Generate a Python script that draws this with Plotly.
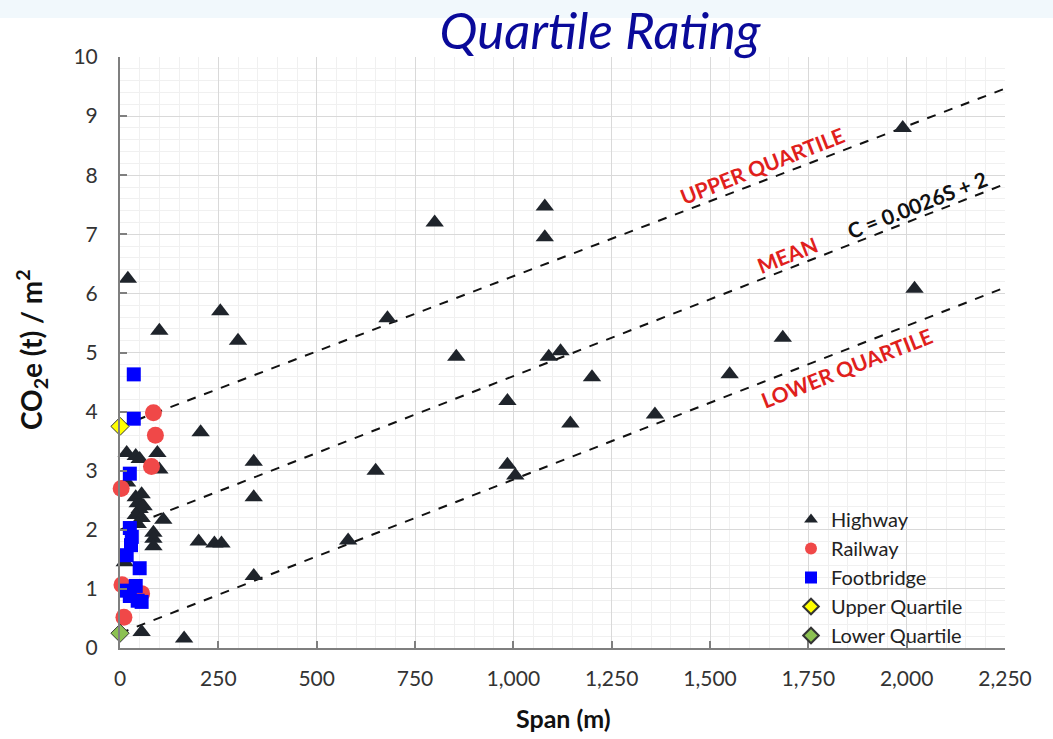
import plotly.graph_objects as go

# Highway bridges: span (m) and embodied carbon per deck area
highway_span = [20, 100, 255, 300, 205, 340, 340, 650, 200, 240, 258, 340, 580, 680,
                1080, 1080, 800, 855, 1090, 1120, 1200, 985, 1145, 1360, 985, 1005,
                1990, 2020, 1685, 1550, 17, 40, 50, 95, 100, 18, 40, 45, 55, 50, 60,
                40, 55, 45, 110, 12, 85, 85, 85, 55, 163]
highway_co2 = [6.25, 5.37, 5.70, 5.20, 3.65, 3.15, 2.55, 3.00, 1.80, 1.77, 1.77, 1.22, 1.82, 5.58,
               7.47, 6.95, 7.20, 4.93, 4.93, 5.02, 4.58, 4.18, 3.80, 3.95, 3.10, 2.92,
               8.80, 6.08, 5.25, 4.63, 3.30, 3.25, 3.20, 3.30, 3.02, 2.80, 2.55, 2.45, 2.60, 2.35, 2.40,
               2.25, 2.20, 2.10, 2.17, 1.45, 1.95, 1.85, 1.72, 0.27, 0.16]

railway_span = [85, 90, 80, 3, 5, 10, 55]
railway_co2 = [3.98, 3.60, 3.07, 2.70, 1.07, 0.52, 0.92]

footbridge_span = [35, 35, 25, 25, 30, 28, 17, 50, 15, 40, 25, 45, 55]
footbridge_co2 = [4.63, 3.88, 2.95, 2.03, 1.88, 1.74, 1.57, 1.35, 0.97, 1.05, 0.88, 0.80, 0.78]

upper_q_span, upper_q_co2 = [0], [3.75]
lower_q_span, lower_q_co2 = [0], [0.25]

# Trend lines C = slope * S + intercept
line_span = [0, 2250]
mean_slope, mean_int = 0.0026, 2.0
upper_slope, upper_int = 0.00254, 3.75
lower_slope, lower_int = 0.0026, 0.25

x_ticks = [0, 250, 500, 750, 1000, 1250, 1500, 1750, 2000, 2250]
y_ticks = list(range(0, 11))

FONT = "Lato"
fig = go.Figure()

dash = dict(color="#111111", width=2, dash="dash")
for slope, icpt in [(upper_slope, upper_int), (mean_slope, mean_int), (lower_slope, lower_int)]:
    fig.add_trace(go.Scatter(x=line_span, y=[icpt + slope * s for s in line_span],
                             mode="lines", line=dash, showlegend=False, hoverinfo="skip"))

fig.add_trace(go.Scatter(x=highway_span, y=highway_co2, mode="markers", name="Highway",
                         marker=dict(symbol="triangle-up", size=16, color="#1f242b"),
                         cliponaxis=False))
fig.add_trace(go.Scatter(x=railway_span, y=railway_co2, mode="markers", name="Railway",
                         marker=dict(symbol="circle", size=17, color="#f04848"),
                         cliponaxis=False))
fig.add_trace(go.Scatter(x=footbridge_span, y=footbridge_co2, mode="markers", name="Footbridge",
                         marker=dict(symbol="square", size=14, color="#0000ff"),
                         cliponaxis=False))
fig.add_trace(go.Scatter(x=upper_q_span, y=upper_q_co2, mode="markers", name="Upper Quartile",
                         marker=dict(symbol="diamond", size=14, color="#ffff00",
                                     line=dict(color="#333333", width=1)),
                         cliponaxis=False))
fig.add_trace(go.Scatter(x=lower_q_span, y=lower_q_co2, mode="markers", name="Lower Quartile",
                         marker=dict(symbol="diamond", size=14, color="#8cc152",
                                     line=dict(color="#333333", width=1)),
                         cliponaxis=False))

axis_common = dict(
    showline=True, linecolor="#7f7f7f", linewidth=2, mirror=False,
    ticks="inside", ticklen=7, tickcolor="#7f7f7f", tickwidth=1.5,
    showgrid=True, gridcolor="#d9d9d9", gridwidth=1, zeroline=False,
    tickfont=dict(family=FONT, size=21, color="#333333"),
)

fig.update_xaxes(range=[0, 2250], tickvals=x_ticks, tickformat=",", ticklabelstandoff=11,
                 minor=dict(dtick=50, showgrid=True, gridcolor="#f0f0f0", ticks=""),
                 **axis_common)
fig.update_yaxes(range=[0, 10], tickvals=y_ticks, ticklabelstandoff=16,
                 minor=dict(dtick=0.2, showgrid=True, gridcolor="#f0f0f0", ticks=""),
                 **axis_common)

red = "#e0201c"
ann = [
    dict(x=1632, y=8.17, text="<b>UPPER QUARTILE</b>", color=red),
    dict(x=1698, y=6.65, text="<b>MEAN</b>", color=red),
    dict(x=2026, y=7.50, text="<b>C = 0.0026S + 2</b>", color="#111111"),
    dict(x=1848, y=4.74, text="<b>LOWER QUARTILE</b>", color=red),
]
for a in ann:
    fig.add_annotation(x=a["x"], y=a["y"], text=a["text"], showarrow=False, textangle=-21.5,
                       font=dict(family=FONT, size=21, color=a["color"]))

# Axis titles
fig.add_annotation(xref="paper", yref="paper", x=(31 - 120) / 885, y=(648 - 350) / 591,
                   xanchor="center", yanchor="middle",
                   text="<b>CO<sub>2</sub>e (t) / m<sup>2</sup></b>", showarrow=False,
                   textangle=-90, font=dict(family=FONT, size=28, color="#111111"))
fig.add_annotation(xref="paper", yref="paper", x=(563 - 120) / 885, y=(648 - 718) / 591,
                   xanchor="center", yanchor="middle",
                   text="<b>Span (m)</b>", showarrow=False,
                   font=dict(family=FONT, size=25, color="#111111"))

# Pale slide band along the top edge
fig.add_shape(type="rect", xref="paper", yref="paper",
              x0=-120 / 885, x1=(1053 - 120) / 885, y0=(648 - 18) / 591, y1=648 / 591,
              fillcolor="#f1f8fc", line=dict(width=0), layer="below")

fig.update_layout(
    width=1053, height=739,
    margin=dict(l=120, r=48, t=57, b=91),
    paper_bgcolor="white", plot_bgcolor="white",
    title=dict(text="<i>Quartile Rating</i>", x=600 / 1053, xanchor="center",
               y=1 - 31 / 739, yanchor="middle", yref="container",
               font=dict(family=FONT, size=51, color="#0a0a9a")),
    legend=dict(x=(791 - 120) / 885, y=(648 - 500) / 591, xanchor="left", yanchor="top",
                bgcolor="rgba(0,0,0,0)", tracegroupgap=0, itemsizing="constant",
                font=dict(family=FONT, size=20, color="#222222")),
    showlegend=True,
)

fig.write_html("out.html")
